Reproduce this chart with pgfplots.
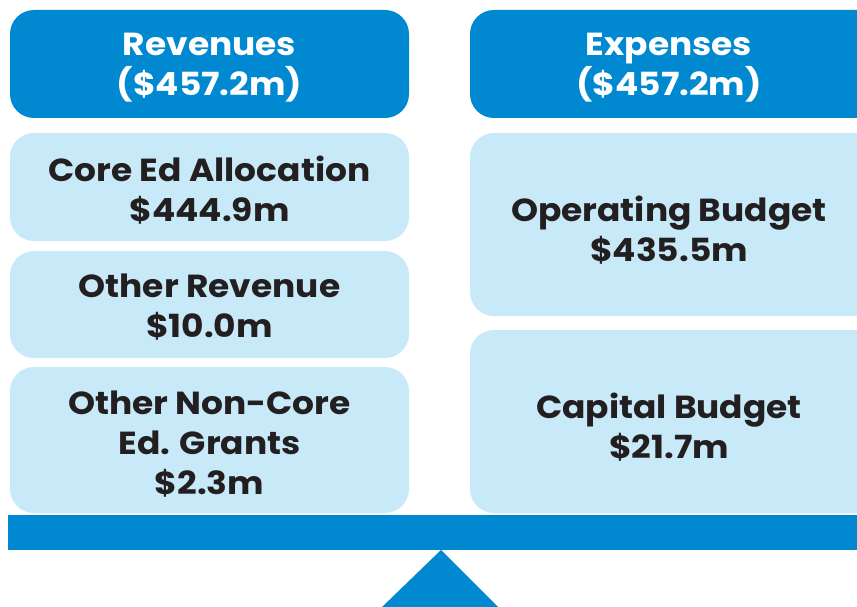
\documentclass[border=0pt]{standalone}
\usepackage{pgfplots}
\pgfplotsset{compat=1.18}
\usepackage{fontspec}
\setmainfont{Poppins}[BoldFont={* Bold}, FakeStretch=1.08]
\definecolor{hdr}{HTML}{0089D0}
\definecolor{cell}{HTML}{C7E9F8}
\definecolor{ink}{HTML}{231F20}
\begin{document}
\begin{tikzpicture}
\begin{axis}[
  width=857bp, height=607bp, scale only axis,
  xmin=0, xmax=857, ymin=0, ymax=607, y dir=reverse,
  hide axis, clip mode=global,
]
\path (axis cs:0,0) rectangle (axis cs:857,607);
% headers
\fill[hdr, rounded corners=24bp] (axis cs:10,10) rectangle (axis cs:409,118);
\fill[hdr, rounded corners=24bp] (axis cs:470,10) rectangle (axis cs:890,118);
% revenue cells
\fill[cell, rounded corners=24bp] (axis cs:10,133) rectangle (axis cs:409,241);
\fill[cell, rounded corners=24bp] (axis cs:10,251) rectangle (axis cs:409,358);
\fill[cell, rounded corners=24bp] (axis cs:10,367) rectangle (axis cs:409,513);
% expense cells
\fill[cell, rounded corners=24bp] (axis cs:470,133) rectangle (axis cs:890,316);
\fill[cell, rounded corners=24bp] (axis cs:470,330) rectangle (axis cs:890,513);
% beam and fulcrum
\fill[hdr] (axis cs:8,515) rectangle (axis cs:857,550);
\fill[hdr] (axis cs:441,550) -- (axis cs:498,607) -- (axis cs:382,607) -- cycle;
% labels
\tikzset{lbl/.style={align=center, inner sep=0pt, font=\fontsize{32}{40}\selectfont\bfseries}}
\node[lbl, text=white] at (axis cs:209.5,68) {Revenues\\(\$457.2m)};
\node[lbl, text=white] at (axis cs:669,68) {Expenses\\(\$457.2m)};
\node[lbl, text=ink] at (axis cs:209.5,190) {Core Ed Allocation\\\$444.9m};
\node[lbl, text=ink] at (axis cs:209.5,307) {Other Revenue\\\$10.0m};
\node[lbl, text=ink] at (axis cs:209.5,444) {Other Non-Core\\Ed. Grants\\\$2.3m};
\node[lbl, text=ink] at (axis cs:669,230) {Operating Budget\\\$435.5m};
\node[lbl, text=ink] at (axis cs:669,427) {Capital Budget\\\$21.7m};
\end{axis}
\end{tikzpicture}
\end{document}
